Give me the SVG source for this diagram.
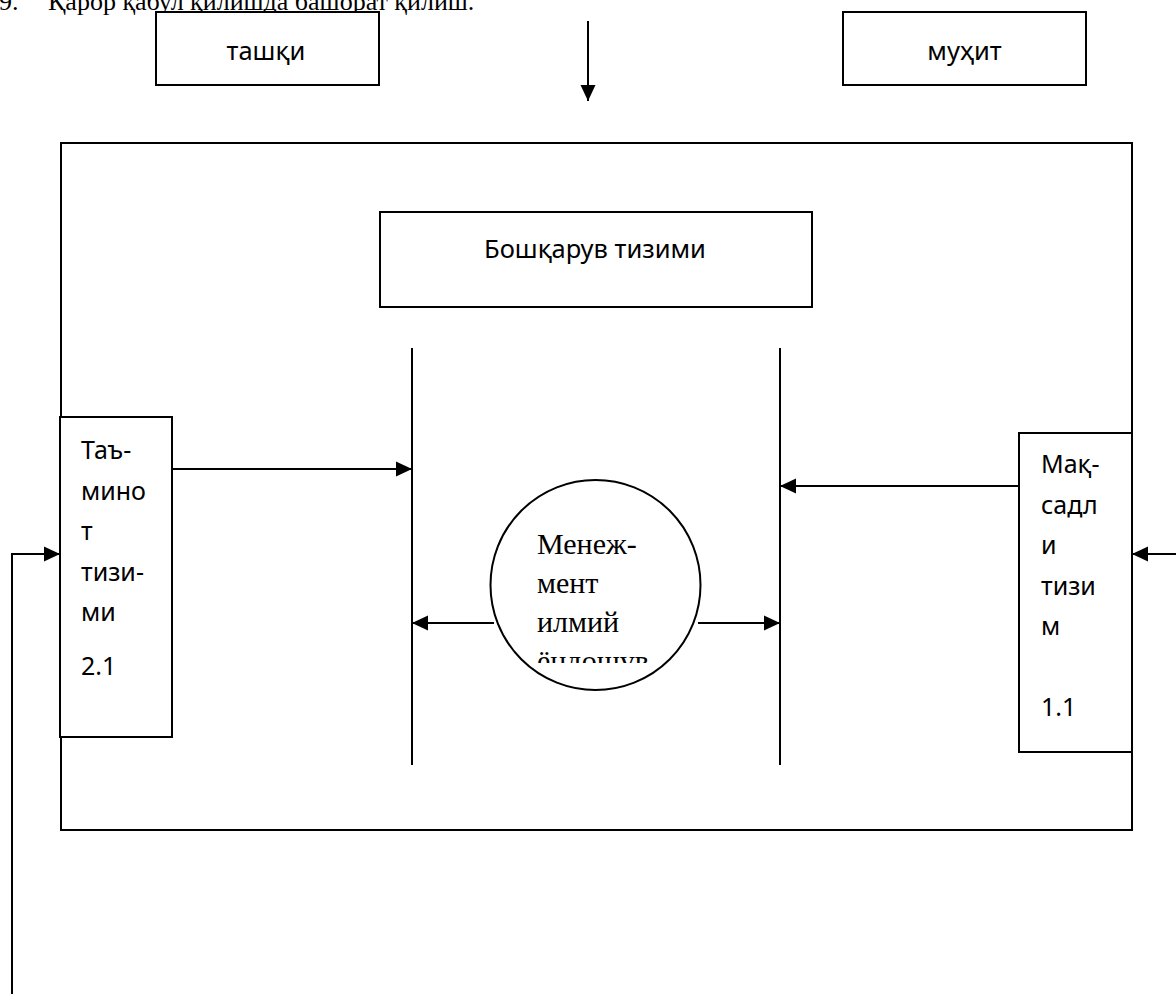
<svg xmlns="http://www.w3.org/2000/svg" width="1176" height="994" viewBox="0 0 1176 994">
<style>
.box{fill:#fff;stroke:#000;stroke-width:2}
.ln{fill:none;stroke:#000;stroke-width:2}
.sans{font-family:"Noto Sans","Open Sans","Liberation Sans",sans-serif;font-size:25px;fill:#000}
.big{font-size:25.5px}
.serif{font-family:"Liberation Serif","Times New Roman",serif;font-size:26px;fill:#000}
</style>
<defs>
<marker id="ah" viewBox="0 0 16 16" markerUnits="userSpaceOnUse" markerWidth="16" markerHeight="16" refX="16" refY="8" orient="auto">
<path d="M0,0.5 L16,8 L0,15.5 z" fill="#000"/>
</marker>
<clipPath id="cclip"><rect x="500" y="490" width="200" height="173"/></clipPath>
</defs>
<rect width="1176" height="994" fill="#fff"/>
<g id="heading">
<text class="serif" x="-1" y="10">9.</text>
<text class="serif" x="48" y="10">Қарор қабул қилишда башорат қилиш.</text>
</g>
<g id="outer">
<rect class="box" x="61" y="143" width="1071" height="687"/>
</g>
<g id="tashqi">
<rect class="box" x="156" y="12" width="223" height="73"/>
<text class="sans big" x="266" y="60" text-anchor="middle">ташқи</text>
</g>
<g id="muhit">
<rect class="box" x="843" y="12" width="243" height="73"/>
<text class="sans big" x="964.5" y="60" text-anchor="middle">муҳит</text>
</g>
<g id="boshqaruv">
<rect class="box" x="380" y="212" width="432" height="95"/>
<text class="sans big" x="595" y="258" text-anchor="middle">Бошқарув тизими</text>
</g>
<g id="bars">
<line class="ln" x1="412" y1="348" x2="412" y2="765"/>
<line class="ln" x1="780" y1="348" x2="780" y2="765"/>
</g>
<g id="taminot">
<rect class="box" x="60" y="417" width="112" height="320"/>
<text class="sans">
<tspan x="81" y="459">Таъ-</tspan>
<tspan x="81" y="499.5">мино</tspan>
<tspan x="81" y="540">т</tspan>
<tspan x="81" y="580.5">тизи-</tspan>
<tspan x="81" y="621">ми</tspan>
<tspan x="81" y="675">2.1</tspan>
</text>
</g>
<g id="maqsad">
<rect class="box" x="1019" y="433" width="113" height="319"/>
<text class="sans">
<tspan x="1041" y="473">Мақ-</tspan>
<tspan x="1041" y="513.5">садл</tspan>
<tspan x="1041" y="554">и</tspan>
<tspan x="1041" y="594.5">тизи</tspan>
<tspan x="1041" y="635">м</tspan>
<tspan x="1041" y="716">1.1</tspan>
</text>
</g>
<g id="menejment">
<circle class="box" cx="595.5" cy="585" r="105"/>
<text class="serif" style="font-size:30px" clip-path="url(#cclip)">
<tspan x="537" y="554">Менеж-</tspan>
<tspan x="537" y="593">мент</tspan>
<tspan x="537" y="632">илмий</tspan>
<tspan x="537" y="671">ёндошув</tspan>
</text>
</g>
<g id="connectors">
<line class="ln" x1="588" y1="21" x2="588" y2="101" marker-end="url(#ah)"/>
<line class="ln" x1="172" y1="469" x2="412" y2="469" marker-end="url(#ah)"/>
<line class="ln" x1="1019" y1="486" x2="780" y2="486" marker-end="url(#ah)"/>
<line class="ln" x1="494" y1="623" x2="412" y2="623" marker-end="url(#ah)"/>
<line class="ln" x1="698" y1="623" x2="780" y2="623" marker-end="url(#ah)"/>
<polyline class="ln" points="12,994 12,554 60,554" marker-end="url(#ah)"/>
<line class="ln" x1="1176" y1="554" x2="1132" y2="554" marker-end="url(#ah)"/>
</g>
</svg>
